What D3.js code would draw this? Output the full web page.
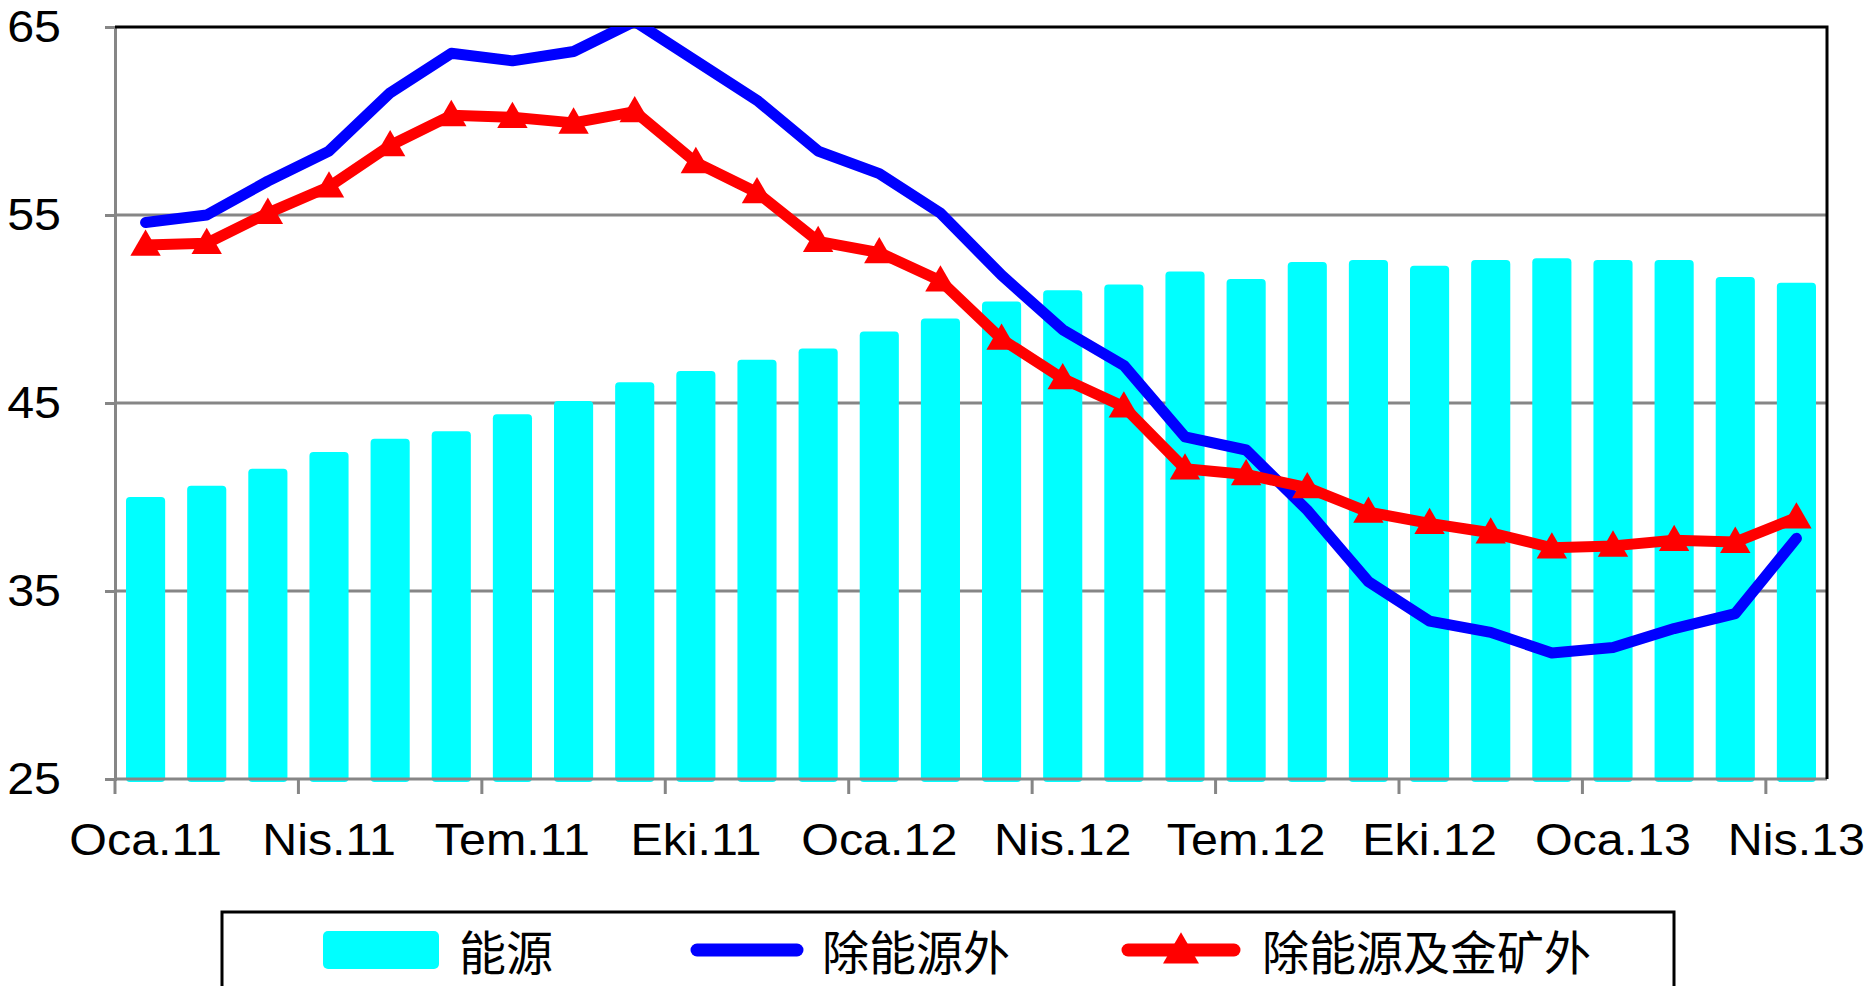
<!DOCTYPE html>
<html>
<head>
<meta charset="utf-8">
<script src="https://cdn.jsdelivr.net/npm/d3@7"></script>
<style>
  body { margin: 0; background: #fff; }
  svg { display: block; }
</style>
</head>
<body>
<svg id="chart"></svg>
<script>
/////////////////////////////////////////////////
///////////////////Data//////////////////////////
/////////////////////////////////////////////////

var months = ["Oca.11","Şub.11","Mar.11","Nis.11","May.11","Haz.11","Tem.11","Ağu.11","Eyl.11",
  "Eki.11","Kas.11","Ara.11","Oca.12","Şub.12","Mar.12","Nis.12","May.12","Haz.12","Tem.12",
  "Ağu.12","Eyl.12","Eki.12","Kas.12","Ara.12","Oca.13","Şub.13","Mar.13","Nis.13"];

var energy = [40.0, 40.6, 41.5, 42.4, 43.1, 43.5, 44.4, 45.1, 46.1, 46.7, 47.3, 47.9, 48.8, 49.5,
  50.4, 51.0, 51.3, 52.0, 51.6, 52.5, 52.6, 52.3, 52.6, 52.7, 52.6, 52.6, 51.7, 51.4];

var exEnergy = [54.6, 55.0, 56.8, 58.4, 61.5, 63.6, 63.2, 63.7, 65.3, 63.2, 61.1, 58.4, 57.2, 55.1,
  51.8, 48.9, 47.0, 43.2, 42.5, 39.3, 35.5, 33.4, 32.8, 31.7, 32.0, 33.0, 33.8, 37.8];

var exEnergyGold = [53.4, 53.5, 55.1, 56.5, 58.7, 60.3, 60.2, 59.9, 60.5, 57.8, 56.2, 53.6, 53.0, 51.5,
  48.4, 46.3, 44.8, 41.5, 41.2, 40.5, 39.2, 38.6, 38.1, 37.3, 37.4, 37.7, 37.6, 38.9];

var yTicks = [25, 35, 45, 55, 65];
var legendNames = ["能源", "除能源外", "除能源及金矿外"];

/////////////////////////////////////////////////
///////////////////Chart/////////////////////////
/////////////////////////////////////////////////

var svgWidth = 1866, svgHeight = 986;
var plotLeft = 115, plotRight = 1827, plotTop = 27, plotBottom = 779;
var labelFont = "'Liberation Sans', Arial, sans-serif";

var svg = d3.select("#chart")
.attr("width", svgWidth)
.attr("height", svgHeight);

var x = d3.scaleBand()
.domain(months)
.range([plotLeft, plotRight])
.paddingInner(0.36)
.paddingOuter(0.18);

var y = d3.scaleLinear()
.domain([25, 65])
.range([plotBottom, plotTop]);

var cx = function (d, i) { return x(months[i]) + x.bandwidth() / 2; };

// gridlines
svg.append("g")
.selectAll("line")
.data(yTicks.slice(1, 4))
.enter()
.append("line")
.attr("x1", plotLeft).attr("x2", plotRight)
.attr("y1", function (d) { return y(d); })
.attr("y2", function (d) { return y(d); })
.attr("stroke", "#868686")
.attr("stroke-width", 3);

// bars
svg.append("g")
.selectAll("rect")
.data(energy)
.enter()
.append("rect")
.attr("x", function (d, i) { return x(months[i]); })
.attr("y", function (d) { return y(d); })
.attr("width", x.bandwidth())
.attr("height", function (d) { return y(25) - y(d) + 3; })
.attr("rx", 4)
.attr("fill", "#00FFFF");

// y axis
var yAxis = svg.append("g")
.attr("transform", "translate(" + plotLeft + ",0)")
.call(d3.axisLeft(y).tickValues(yTicks).tickSize(10));

yAxis.select(".domain").attr("stroke", "#868686").attr("stroke-width", 3);
yAxis.selectAll(".tick line").attr("stroke", "#868686").attr("stroke-width", 3);
yAxis.selectAll(".tick text")
.attr("x", 0)
.attr("transform", "translate(-54,0) scale(1.1,1)")
.attr("fill", "#000")
.style("font-family", labelFont)
.style("font-size", "44px");

// x axis: ticks every 3 months at band edges, labels at band centers
var tickMonths = months.filter(function (d, i) { return i % 3 === 0; });

var xg = svg.append("g");

xg.append("line")
.attr("x1", plotLeft).attr("x2", plotRight)
.attr("y1", plotBottom).attr("y2", plotBottom)
.attr("stroke", "#868686")
.attr("stroke-width", 3);

xg.selectAll(".xtick")
.data(tickMonths)
.enter()
.append("line")
.attr("class", "xtick")
.attr("x1", function (d) { return x(d) - x.step() * x.paddingInner() / 2; })
.attr("x2", function (d) { return x(d) - x.step() * x.paddingInner() / 2; })
.attr("y1", plotBottom)
.attr("y2", plotBottom + 15)
.attr("stroke", "#868686")
.attr("stroke-width", 3);

xg.selectAll(".xlabel")
.data(tickMonths)
.enter()
.append("text")
.attr("class", "xlabel")
.attr("transform", function (d) {
  return "translate(" + (x(d) + x.bandwidth() / 2) + ",855) scale(1.1,1)";
})
.attr("text-anchor", "middle")
.style("font-family", labelFont)
.style("font-size", "44px")
.text(function (d) { return d; });

// top and right border
svg.append("path")
.attr("d", "M" + plotLeft + "," + plotTop + "H" + plotRight + "V" + plotBottom)
.attr("fill", "none")
.attr("stroke", "#000")
.attr("stroke-width", 3);

// lines
svg.append("clipPath")
.attr("id", "plotClip")
.append("rect")
.attr("x", plotLeft).attr("y", plotTop)
.attr("width", plotRight - plotLeft).attr("height", plotBottom - plotTop);

var line = d3.line()
.x(cx)
.y(function (d) { return y(d); });

svg.append("path")
.datum(exEnergy)
.attr("clip-path", "url(#plotClip)")
.attr("d", line)
.attr("fill", "none")
.attr("stroke", "#0000FF")
.attr("stroke-width", 11)
.attr("stroke-linecap", "round")
.attr("stroke-linejoin", "round");

svg.append("path")
.datum(exEnergyGold)
.attr("d", line)
.attr("fill", "none")
.attr("stroke", "#FF0000")
.attr("stroke-width", 11)
.attr("stroke-linejoin", "round");

var tri = d3.symbol().type(d3.symbolTriangle).size(400);

svg.append("g")
.selectAll("path")
.data(exEnergyGold)
.enter()
.append("path")
.attr("d", tri)
.attr("transform", function (d, i) {
  return "translate(" + cx(d, i) + "," + (y(d) + 2) + ")";
})
.attr("fill", "#FF0000");

/////////////////////////////////////////////////
///////////////////Legend////////////////////////
/////////////////////////////////////////////////

var lg = svg.append("g");

lg.append("rect")
.attr("x", 222).attr("y", 912)
.attr("width", 1674 - 222).attr("height", 120)
.attr("fill", "#fff")
.attr("stroke", "#000")
.attr("stroke-width", 3);

lg.append("rect")
.attr("x", 323).attr("y", 931)
.attr("width", 116).attr("height", 38)
.attr("rx", 5)
.attr("fill", "#00FFFF");

lg.append("line")
.attr("x1", 697).attr("x2", 797)
.attr("y1", 950).attr("y2", 950)
.attr("stroke", "#0000FF")
.attr("stroke-width", 13)
.attr("stroke-linecap", "round");

lg.append("line")
.attr("x1", 1128).attr("x2", 1234)
.attr("y1", 950).attr("y2", 950)
.attr("stroke", "#FF0000")
.attr("stroke-width", 13)
.attr("stroke-linecap", "round");

lg.append("path")
.attr("d", d3.symbol().type(d3.symbolTriangle).size(560))
.attr("transform", "translate(1181,953)")
.attr("fill", "#FF0000");

lg.selectAll("text")
.data(legendNames)
.enter()
.append("text")
.attr("x", function (d, i) { return [459, 822, 1262][i]; })
.attr("y", 970)
.style("font-family", "'Noto Sans CJK SC', sans-serif")
.style("font-size", "47px")
.text(function (d) { return d; });
</script>
</body>
</html>
